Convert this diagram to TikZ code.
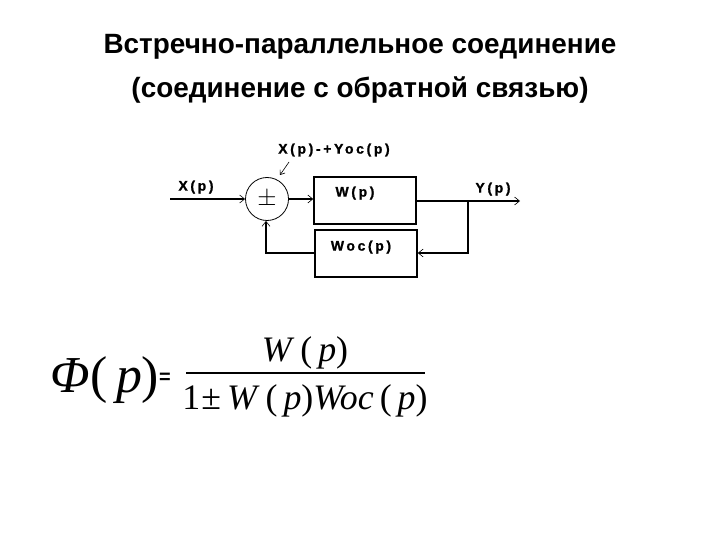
\documentclass[tikz,border=0pt]{standalone}
\usepackage{fontspec}
\setmainfont{Liberation Sans}
\newfontfamily\tnr{Liberation Serif}
\newfontfamily\lbl{Liberation Sans}[UprightFont=* Bold, LetterSpace=19, FakeBold=1.2]
\usetikzlibrary{arrows.meta}
\tikzset{
  wire/.style={line width=1.5bp, black},
  arr/.style={wire, -{Straight Barb[length=5bp,width=8bp,line width=0.6bp]}},
  blk/.style={draw, line width=1.5bp, minimum width=102bp, minimum height=47bp, inner sep=0pt},
  lab/.style={font=\lbl\fontsize{14}{16}\selectfont, inner sep=0pt},
  ttl/.style={font=\bfseries\fontsize{28}{32}\selectfont, inner sep=0pt},
  fm/.style={font=\tnr\fontsize{36}{40}\selectfont, inner sep=0pt, anchor=base}
}
\begin{document}
\begin{tikzpicture}[x=1bp,y=-1bp]
\path[use as bounding box] (0,0) rectangle (720,540);
% title
\node[ttl] (t1) at (360,47) {Встречно-параллельное соединение};
\node[ttl] (t2) at (360,90) {(соединение с обратной связью)};
% blocks
\node[circle, draw, line width=0.8bp, minimum size=43bp, inner sep=0pt] (sum) at (267,199) {};
\node[font=\fontsize{30}{30}\selectfont, inner sep=0pt] (pm) at (267,199) {$\pm$};
\node[blk] (W) at (365,200.5) {};
\node[lab] (Wt) at (355,193) {W(p)};
\node[blk] (Woc) at (366,253.5) {};
\node[lab] (Woct) at (361,247) {Woc(p)};
% labels
\node[lab] (X) at (196,187) {X(p)};
\node[lab] (Y) at (493,189) {Y(p)};
\node[lab] (E) at (334,150) {X(p)-+Yoc(p)};
\coordinate (in) at (170,199);
\coordinate (out) at (520,201);
\coordinate (br) at (468,201);
\coordinate (brd) at (468,253);
\coordinate (fbl) at (266,253);
\coordinate (ea) at (289,162);
\coordinate (eb) at (280,175);
% connectors
\draw[arr] (in) -- (sum.west);
\draw[arr] (sum.east) -- (sum.east -| W.west);
\draw[arr] (W.east |- out) -- (out);
\draw[arr] (br) -- (brd) -- (brd -| Woc.east);
\draw[arr] (Woc.west |- fbl) -- (fbl) -- (sum.south -| fbl);
\draw[-{Straight Barb[length=4bp,width=6bp]}, line width=0.6bp] (ea) -- (eb);
% formula
\node[fm, font=\tnr\fontsize{52}{56}\selectfont] (phi) at (105,392) {\textit{Φ}(\,\textit{p})};
\node[font=\bfseries\fontsize{20}{20}\selectfont, inner sep=0pt] (eq) at (165,378) {=};
\node[fm] (num) at (305,361) {\textit{W}\,(\,\textit{p})};
\node[fm] (den) at (305,409) {1\kern1bp±\,\textit{W}\,(\,\textit{p})\textit{Woc}\,(\,\textit{p})};
\coordinate (bl) at (186,373);
\coordinate (brr) at (425,373);
\draw[line width=1.4bp] (bl) -- (brr);
\end{tikzpicture}
\end{document}
